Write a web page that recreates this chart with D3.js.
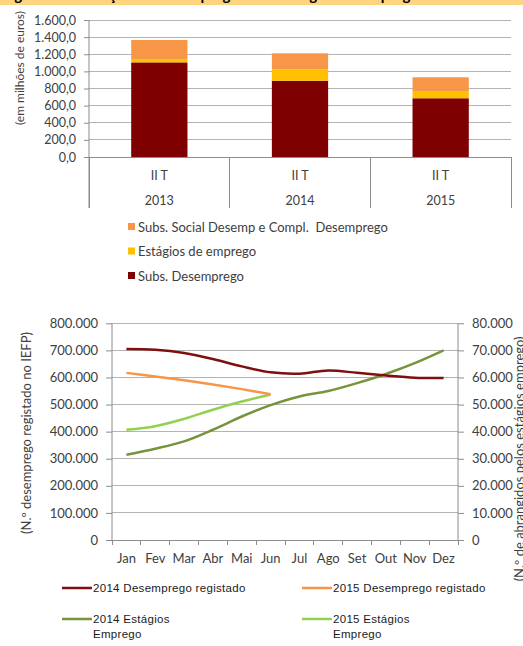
<!DOCTYPE html>
<html><head><meta charset="utf-8">
<script src="https://cdn.jsdelivr.net/npm/d3@7"></script>
<style>
html,body{margin:0;padding:0;background:#fff;}
svg{display:block;}
</style></head>
<body>
<svg id="c" width="523" height="646"></svg>
<script>
// ---- Bar chart data ----
const barCategories = ["2013", "2014", "2015"];
const barQuarter = ["II T", "II T", "II T"];
const subsDesemprego = [1105, 890, 686];
const estagiosEmprego = [40, 134, 77];
const subsSocial = [221, 187, 168];
const barSeriesNames = ["Subs. Desemprego", "Estágios de emprego", "Subs. Social Desemp e Compl.  Desemprego"];
const barTicks = [0, 200, 400, 600, 800, 1000, 1200, 1400, 1600];

// ---- Line chart data ----
const months = ["Jan","Fev","Mar","Abr","Mai","Jun","Jul","Ago","Set","Out","Nov","Dez"];
const desemp2014 = [705000, 702000, 690000, 668000, 641000, 619000, 614000, 626000, 617000, 607000, 599000, 598000];
const desemp2015 = [617000, 604000, 590000, 574000, 557000, 538000];
const estag2014 = [31500, 33700, 36400, 40700, 45600, 49800, 53000, 55000, 57900, 61300, 65300, 70000];
const estag2015 = [40700, 42000, 44700, 48100, 51100, 53700];
const leftTicks = [0,100000,200000,300000,400000,500000,600000,700000,800000];
const rightTicks = [0,10000,20000,30000,40000,50000,60000,70000,80000];
const lineNames = ["2014 Desemprego registado","2015 Desemprego registado","2014 Estágios Emprego","2015 Estágios Emprego"];

const svg = d3.select("#c");
const FONT = "Lato, 'Open Sans', sans-serif";
const grid = "#b3b3b3", axisC = "#8c8c8c", txt = "#404040";

// ---- title strip (cut off in original) ----
svg.append("defs").append("clipPath").attr("id","topclip")
  .append("rect").attr("x",0).attr("y",0).attr("width",523).attr("height",5);
svg.append("rect").attr("x",0).attr("y",0).attr("width",523).attr("height",5).attr("fill","#FFD47F");
svg.append("g").attr("clip-path","url(#topclip)").append("text")
  .attr("x",2).attr("y",-0.5).attr("font-family",FONT).attr("font-weight","bold").attr("font-size",15)
  .attr("fill","#000").text("Figura 3 – Evolução do desemprego e dos estágios de emprego");

// ================= BAR CHART =================
const bx = d3.scaleBand().domain(barCategories).range([89, 511]).paddingInner(0.6).paddingOuter(0.3);
const by = d3.scaleLinear().domain([0, 1600]).range([157, 20]);
const bg = svg.append("g");

bg.selectAll("line.g").data(barTicks).join("line")
  .attr("x1", 89).attr("x2", 511).attr("y1", d => by(d)).attr("y2", d => by(d))
  .attr("stroke", grid).attr("stroke-width", 1).attr("shape-rendering","crispEdges");
const yAxisB = d3.axisLeft(by).tickValues(barTicks).tickSize(5).tickPadding(8)
  .tickFormat(d => d3.format(",.1f")(d).replace(/,/g,"#").replace(".",",").replace(/#/g,"."));
const gya = bg.append("g").attr("transform","translate(89,0)").call(yAxisB);
gya.select(".domain").attr("stroke", axisC).attr("d","M0,20V208");
gya.selectAll(".tick line").attr("stroke", axisC);
gya.selectAll("text").attr("font-family",FONT).attr("font-size",12.5).attr("fill",txt);

const stackData = barCategories.map((c,i)=>({cat:c, s0:subsDesemprego[i], s1:estagiosEmprego[i], s2:subsSocial[i]}));
const stack = d3.stack().keys(["s0","s1","s2"])(stackData);
const barColors = ["#7F0000", "#FFC000", "#F79646"];
bg.selectAll("g.layer").data(stack).join("g").attr("fill",(d,i)=>barColors[i])
  .selectAll("rect").data(d=>d).join("rect")
  .attr("x", d => bx(d.data.cat)).attr("width", bx.bandwidth())
  .attr("y", d => by(d[1])).attr("height", d => by(d[0]) - by(d[1]));

bg.append("line").attr("x1",89).attr("x2",511).attr("y1",157).attr("y2",157).attr("stroke",axisC).attr("shape-rendering","crispEdges");
const seps = [bx.range()[0]].concat(barCategories.map(c => bx(c) - bx.step()*bx.paddingInner()/2 + bx.step()));
bg.selectAll("line.sep").data(seps).join("line")
  .attr("x1", d=>d).attr("x2", d=>d).attr("y1",157).attr("y2",208)
  .attr("stroke",axisC).attr("shape-rendering","crispEdges");
bg.selectAll("text.q").data(barCategories).join("text")
  .attr("x", (d)=> bx(d)+bx.bandwidth()/2).attr("y",180).attr("text-anchor","middle")
  .attr("font-family",FONT).attr("font-size",12.5).attr("fill",txt).text((d,i)=>barQuarter[i]);
bg.selectAll("text.yr").data(barCategories).join("text")
  .attr("x", (d)=> bx(d)+bx.bandwidth()/2).attr("y",204.5).attr("text-anchor","middle")
  .attr("font-family",FONT).attr("font-size",12.5).attr("fill",txt).text(d=>d);
bg.append("text").attr("transform","translate(24,68) rotate(-90)").attr("text-anchor","middle")
  .attr("font-family",FONT).attr("font-size",12).attr("fill",txt).text("(em milhões de euros)");

const legOrder = [2,1,0];
const bl = bg.selectAll("g.bl").data(legOrder).join("g")
  .attr("transform",(d,i)=>`translate(128,${227 + i*24.5})`);
bl.append("rect").attr("x",0).attr("y",-4).attr("width",7).attr("height",7).attr("fill",d=>barColors[d]);
bl.append("text").attr("x",10).attr("y",4.5).attr("font-family",FONT).attr("font-size",13).attr("fill",txt)
  .attr("xml:space","preserve").text(d=>barSeriesNames[d]);

// ================= LINE CHART =================
const lx = d3.scalePoint().domain(months).range([112, 458]).padding(0.5);
const ly = d3.scaleLinear().domain([0, 800000]).range([540, 323.3]);
const ry = d3.scaleLinear().domain([0, 80000]).range([540, 323.3]);
const lg = svg.append("g");
const fmt = d => d3.format(",")(d).replace(/,/g,".");

lg.selectAll("line.g").data(leftTicks).join("line")
  .attr("x1",112).attr("x2",458).attr("y1",d=>ly(d)).attr("y2",d=>ly(d))
  .attr("stroke",grid).attr("shape-rendering","crispEdges");

const la = lg.append("g").attr("transform","translate(112,0)")
  .call(d3.axisLeft(ly).tickValues(leftTicks).tickSize(6).tickPadding(8).tickFormat(fmt));
la.select(".domain").attr("stroke",axisC).attr("d","M0,323.3V540");
la.selectAll(".tick line").attr("stroke",axisC);
la.selectAll("text").attr("font-family",FONT).attr("font-size",13).attr("fill",txt);

const ra = lg.append("g").attr("transform","translate(458,0)")
  .call(d3.axisRight(ry).tickValues(rightTicks).tickSize(6).tickPadding(8).tickFormat(fmt));
ra.select(".domain").attr("stroke",axisC).attr("d","M0,323.3V540");
ra.selectAll(".tick line").attr("stroke",axisC);
ra.selectAll("text").attr("font-family",FONT).attr("font-size",13).attr("fill",txt);

const step = lx.step();
const bnds = d3.range(months.length+1).map(i => 112 + i*step);
lg.append("line").attr("x1",112).attr("x2",458).attr("y1",540).attr("y2",540).attr("stroke",axisC).attr("shape-rendering","crispEdges");
lg.selectAll("line.bt").data(bnds).join("line").attr("x1",d=>d).attr("x2",d=>d).attr("y1",540).attr("y2",545)
  .attr("stroke",axisC).attr("shape-rendering","crispEdges");
lg.selectAll("text.m").data(months).join("text").attr("x",d=>lx(d)).attr("y",563).attr("text-anchor","middle")
  .attr("font-family",FONT).attr("font-size",13).attr("fill",txt).text(d=>d);

const lineColors = ["#7F0F0F","#F79646","#77933C","#92D050"];
const curve = d3.curveCatmullRom.alpha(0.5);
const lineL = d3.line().x((d,i)=>lx(months[i])).y(d=>ly(d)).curve(curve);
const lineR = d3.line().x((d,i)=>lx(months[i])).y(d=>ry(d)).curve(curve);
lg.append("path").attr("d",lineR(estag2014)).attr("fill","none").attr("stroke",lineColors[2]).attr("stroke-width",2.5);
lg.append("path").attr("d",lineR(estag2015)).attr("fill","none").attr("stroke",lineColors[3]).attr("stroke-width",2.5);
lg.append("path").attr("d",lineL(desemp2014)).attr("fill","none").attr("stroke",lineColors[0]).attr("stroke-width",2.5);
lg.append("path").attr("d",lineL(desemp2015)).attr("fill","none").attr("stroke",lineColors[1]).attr("stroke-width",2.5);

lg.append("text").attr("transform","translate(31,433) rotate(-90)").attr("text-anchor","middle")
  .attr("font-family",FONT).attr("font-size",13).attr("fill",txt).text("(N.º desemprego registado no IEFP)");
lg.append("text").attr("transform","translate(524,459) rotate(-90)").attr("text-anchor","middle")
  .attr("font-family",FONT).attr("font-size",13).attr("fill",txt).text("(N.º de abrangidos pelos estágios emprego)");

const LF = "'Liberation Sans', Arial, sans-serif";
const legPos = [[62,588],[302,588],[62,619],[302,619]];
const ll = lg.selectAll("g.ll").data(lineNames).join("g").attr("transform",(d,i)=>`translate(${legPos[i][0]},${legPos[i][1]})`);
ll.append("line").attr("x1",0).attr("x2",30).attr("y1",0).attr("y2",0).attr("stroke",(d,i)=>lineColors[i]).attr("stroke-width",2.5);
ll.each(function(d,i){
  const t = d3.select(this).append("text").attr("x",31).attr("y",4).attr("font-family",LF).attr("font-size",11.5)
    .attr("letter-spacing",0.3).attr("fill","#1a1a1a");
  if (i < 2) t.text(d);
  else {
    const parts = [d.replace(" Emprego",""), "Emprego"];
    t.selectAll("tspan").data(parts).join("tspan").attr("x",31).attr("dy",(p,j)=> j===0?0:15).text(p=>p);
  }
});
</script>
</body></html>
